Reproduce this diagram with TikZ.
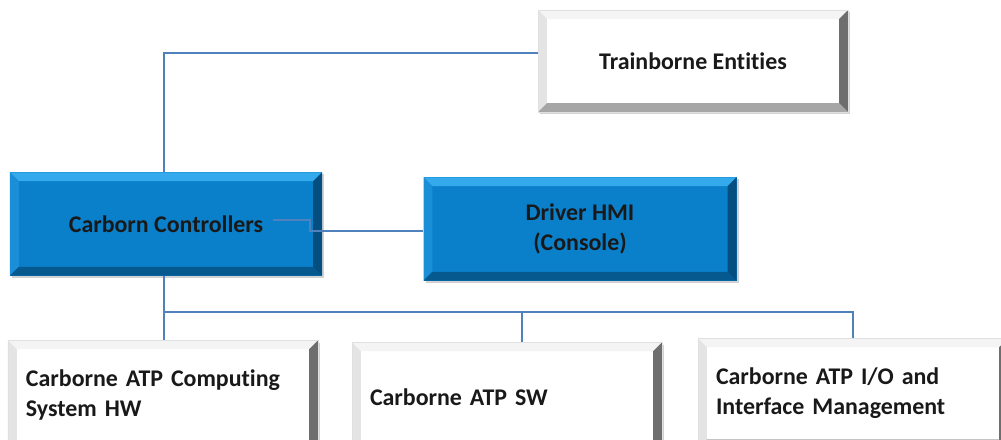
\documentclass[tikz,border=0pt]{standalone}
\usepackage{fontspec}
\setmainfont{Carlito}[Ligatures=NoCommon]
\usepackage{tikz}
\usetikzlibrary{shadows, calc, positioning}

\definecolor{boxblue}{HTML}{0A80CB}
\definecolor{bluetop}{HTML}{34AAEC}
\definecolor{blueleft}{HTML}{1A8FD7}
\definecolor{bluebot}{HTML}{05598F}
\definecolor{blueright}{HTML}{044E80}
\definecolor{linkblue}{HTML}{4F81BD}
\definecolor{greytop}{HTML}{F4F4F4}
\definecolor{greyleft}{HTML}{E4E4E4}
\definecolor{greybot}{HTML}{A6A6A6}
\definecolor{greyright}{HTML}{6E6E6E}

\newcommand{\bevw}{0.22cm}

\tikzset{
    bevel/.style n args={4}{path picture={
        \path (path picture bounding box.north west) coordinate (bnw)
              (path picture bounding box.north east) coordinate (bne)
              (path picture bounding box.south west) coordinate (bsw)
              (path picture bounding box.south east) coordinate (bse);
        \fill[#1] (bnw) -- (bne) -- ([shift={(-\bevw,-\bevw)}]bne) -- ([shift={(\bevw,-\bevw)}]bnw) -- cycle;
        \fill[#2] (bnw) -- (bsw) -- ([shift={(\bevw,\bevw)}]bsw) -- ([shift={(\bevw,-\bevw)}]bnw) -- cycle;
        \fill[#3] (bsw) -- (bse) -- ([shift={(-\bevw,\bevw)}]bse) -- ([shift={(\bevw,\bevw)}]bsw) -- cycle;
        \fill[#4] (bne) -- (bse) -- ([shift={(-\bevw,\bevw)}]bse) -- ([shift={(-\bevw,-\bevw)}]bne) -- cycle;
    }}
}

\begin{document}
\begin{tikzpicture}[
        boxfont/.style={font=\fontsize{17}{21.5}\selectfont\bfseries},
        bluebox/.style={rectangle, fill=boxblue, text=black!90, align=center, boxfont,
            minimum width=7.8cm, minimum height=2.58cm,
            bevel={bluetop}{blueleft}{bluebot}{blueright},
            drop shadow={opacity=0.35, shadow xshift=0.05cm, shadow yshift=-0.05cm}},
        whitebox/.style={rectangle, fill=white, draw=black!12, text=black!90, boxfont,
            minimum width=7.75cm, minimum height=2.55cm,
            bevel={greytop}{greyleft}{greybot}{greyright},
            drop shadow={opacity=0.35, shadow xshift=0.06cm, shadow yshift=-0.06cm}},
        unitbox/.style={whitebox, anchor=north, minimum height=2.75cm,
            align=left, text width=6.85cm, inner xsep=0.45cm},
        link/.style={draw=linkblue, line width=0.8pt}
    ]
        \useasboundingbox (0,0) rectangle (25.025,11);
        \clip (0,0) rectangle (25.025,11);
        \fill[white] (0,0) rectangle (25.025,11);

        % top level
        \node[whitebox, align=center] (train) at (17.325,9.475) {Trainborne Entities};

        % controllers and console
        \node[bluebox] (ctrl) at (4.15,5.4) {Carborn Controllers};
        \node[bluebox, minimum width=7.825cm] (hmi) at (14.5,5.275) {Driver HMI\\(Console)};

        % carborne units
        \node[unitbox] (hw) at (4.075,2.5) {Carborne ATP Computing\\System HW};
        \node[unitbox] (sw) at (12.675,2.45) {Carborne ATP SW};
        \node[unitbox] (io) at (21.325,2.55) {Carborne ATP I/O and\\Interface Management};

        \coordinate (ctrlout) at (6.825,5.5);
        \coordinate (bus) at (4.1,3.2);
        \coordinate (swtap) at (13.05,3.2);

        \draw[link] ([yshift=2mm]train.west) -| (ctrl.north -| bus);
        \draw[link] (ctrlout) -- (7.75,5.5) |- ([yshift=-0.5mm]hmi.west);
        \draw[link] (ctrl.south -| bus) -- (bus) -- (bus |- hw.north);
        \draw[link] (bus) -| (io.north);
        \draw[link] (swtap) -- (swtap |- sw.north);
    \end{tikzpicture}
\end{document}
